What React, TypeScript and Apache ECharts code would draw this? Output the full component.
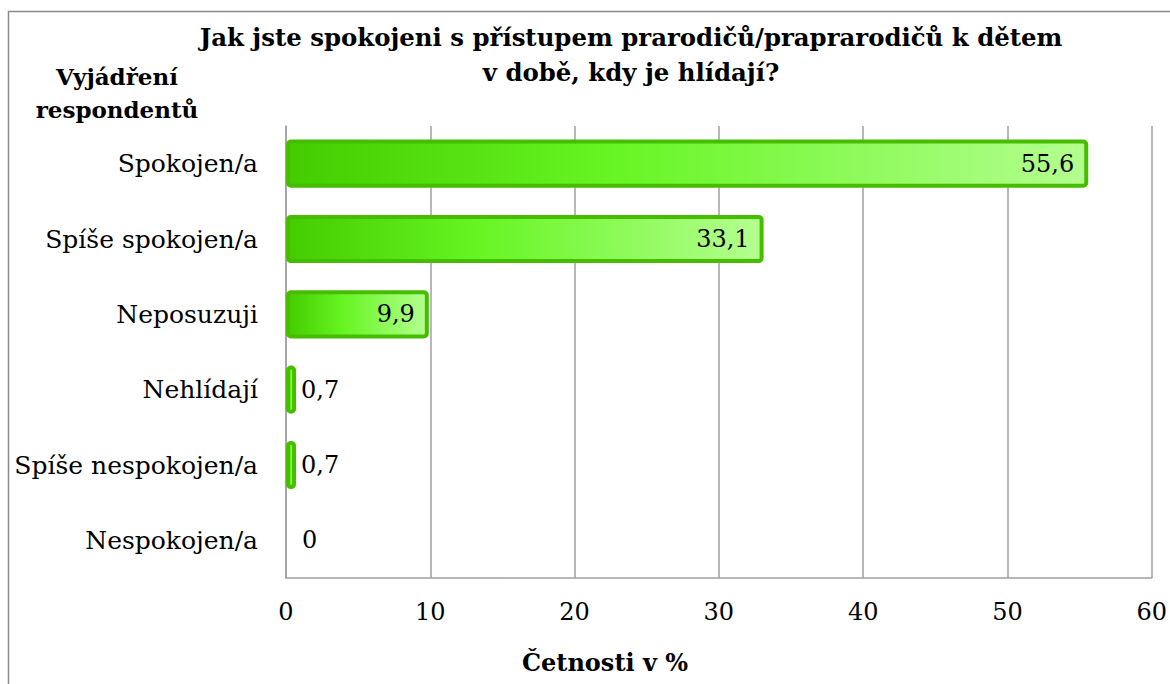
import React, { useEffect, useRef } from "react";
import * as echarts from "echarts";

const categories = [
  "Spokojen/a",
  "Spíše spokojen/a",
  "Neposuzuji",
  "Nehlídají",
  "Spíše nespokojen/a",
  "Nespokojen/a",
];
const values = [55.6, 33.1, 9.9, 0.7, 0.7, 0];
const xTicks = [0, 10, 20, 30, 40, 50, 60];
const titleLines = [
  "Jak jste spokojeni s přístupem prarodičů/praprarodičů k dětem",
  "v době, kdy je hlídají?",
];
const yAxisTitle = ["Vyjádření", "respondentů"];
const xAxisTitle = "Četnosti v %";

const FONT = "DejaVu Serif";

export default function App() {
  const ref = useRef<HTMLDivElement>(null);
  useEffect(() => {
    if (!ref.current) return;
    const chart = echarts.init(ref.current, undefined, { renderer: "svg" });
    const grad = new echarts.graphic.LinearGradient(0, 0, 1, 0, [
      { offset: 0, color: "#44cc00" },
      { offset: 0.4, color: "#66f522" },
      { offset: 1, color: "#b4ff90" },
    ]);
    chart.setOption({
      animation: false,
      backgroundColor: "#ffffff",
      textStyle: { fontFamily: FONT },
      grid: { left: 286, right: 18, top: 126, bottom: 106, containLabel: false },
      xAxis: {
        type: "value",
        min: xTicks[0],
        max: xTicks[xTicks.length - 1],
        interval: 10,
        axisLine: { show: true, lineStyle: { color: "#a0a0a0", width: 1.5 } },
        axisTick: { show: false },
        splitLine: { show: true, lineStyle: { color: "#a0a0a0", width: 1.5 } },
        axisLabel: {
          margin: 22,
          fontFamily: FONT,
          fontSize: 24,
          color: "#000",
        },
      },
      yAxis: {
        type: "category",
        inverse: true,
        data: categories,
        axisLine: { show: true, lineStyle: { color: "#a0a0a0", width: 1.5 } },
        axisTick: { show: false },
        axisLabel: {
          margin: 28,
          fontFamily: FONT,
          fontSize: 25,
          color: "#000",
        },
      },
      series: [
        {
          type: "bar",
          barWidth: "64%",
          data: values.map((v) => ({
            value: v,
            itemStyle: v === 0 ? { borderWidth: 0 } : undefined,
            label: {
              position: v > 5 ? "insideRight" : "right",
              distance: v > 5 ? 14 : v === 0 ? 16 : 5,
            },
          })),
          itemStyle: {
            color: grad,
            borderColor: "#46bd00",
            borderWidth: 4,
            borderRadius: 3,
          },
          label: {
            show: true,
            fontFamily: FONT,
            fontSize: 24,
            color: "#000",
            formatter: (p: any) => String(p.value).replace(".", ","),
          },
        },
      ],
      graphic: [
        {
          type: "rect",
          shape: { x: 8.5, y: 11.5, width: 1300, height: 900 },
          style: { fill: "none", stroke: "#8a8a8a", lineWidth: 1.5 },
          silent: true,
          z: -1,
        },
        ...titleLines.map((t, i) => ({
          type: "text",
          x: 631,
          y: 37 + i * 35,
          style: {
            text: t,
            fontFamily: FONT,
            fontSize: 24.4,
            fontWeight: "bold",
            fill: "#000",
            textAlign: "center",
            textVerticalAlign: "middle",
          },
        })),
        ...yAxisTitle.map((t, i) => ({
          type: "text",
          x: 117,
          y: 76 + i * 33,
          style: {
            text: t,
            fontFamily: FONT,
            fontSize: 23,
            fontWeight: "bold",
            fill: "#000",
            textAlign: "center",
            textVerticalAlign: "middle",
          },
        })),
        {
          type: "text",
          x: 605,
          y: 662,
          style: {
            text: xAxisTitle,
            fontFamily: FONT,
            fontSize: 24,
            fontWeight: "bold",
            fill: "#000",
            textAlign: "center",
            textVerticalAlign: "middle",
          },
        },
      ],
    });
    return () => chart.dispose();
  }, []);
  return (
    <div
      ref={ref}
      style={{ position: "absolute", left: 0, top: 0, width: 1170, height: 684 }}
    />
  );
}
